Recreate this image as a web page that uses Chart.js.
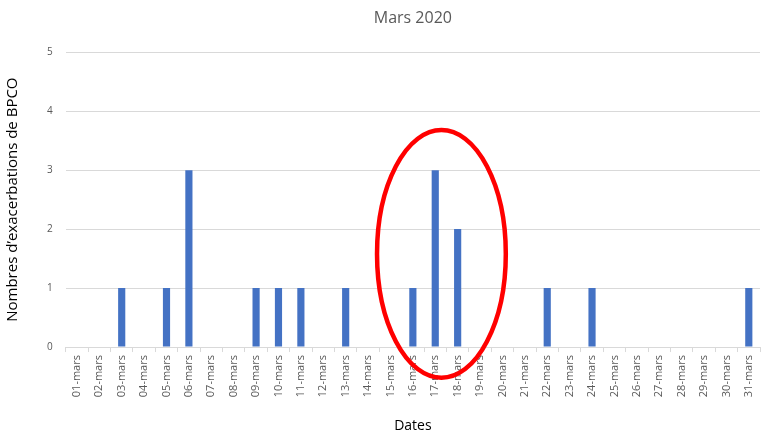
<!DOCTYPE html>
<html>
<head>
<meta charset="utf-8">
<script src="https://cdn.jsdelivr.net/npm/chart.js@4"></script>
<style>
  html, body { margin: 0; padding: 0; background: #ffffff; }
  canvas { display: block; }
</style>
</head>
<body>
<canvas id="chart" width="766" height="436"></canvas>
<script>
const dateLabels = [
    "01-mars", "02-mars", "03-mars", "04-mars", "05-mars", "06-mars", "07-mars", "08-mars",
    "09-mars", "10-mars", "11-mars", "12-mars", "13-mars", "14-mars", "15-mars", "16-mars",
    "17-mars", "18-mars", "19-mars", "20-mars", "21-mars", "22-mars", "23-mars", "24-mars",
    "25-mars", "26-mars", "27-mars", "28-mars", "29-mars", "30-mars", "31-mars"
];
const exacerbations = [
    0, 0, 1, 0, 1, 3, 0, 0,
    1, 1, 1, 0, 1, 0, 0, 1,
    3, 2, 0, 0, 0, 1, 0, 1,
    0, 0, 0, 0, 0, 0, 1
];
const yTicks = [0, 1, 2, 3, 4, 5];
// highlighted period: 16-mars .. 18-mars
const highlightFrom = 15;
const highlightTo = 17;

const fontFamily = "'Open Sans', 'Liberation Sans', sans-serif";

// red ellipse round the highlighted bars, placed through the scales
const ellipsePlugin = {
    id: "ellipse",
    afterDatasetsDraw: (chart) => {
        const ctx = chart.ctx;
        const x = chart.scales.x;
        const y = chart.scales.y;
        const left = x.getPixelForValue(highlightFrom - 1.6);
        const right = x.getPixelForValue(highlightTo + 2.15);
        const top = y.getPixelForValue(3.68);
        const bottom = y.getPixelForValue(-0.52);
        ctx.save();
        ctx.beginPath();
        ctx.ellipse((left + right) / 2, (top + bottom) / 2, (right - left) / 2, (bottom - top) / 2, 0, 0, Math.PI * 2);
        ctx.strokeStyle = "#ff0000";
        ctx.lineWidth = 4.5;
        ctx.stroke();
        ctx.restore();
    }
};

const ctx = document.getElementById("chart").getContext("2d");
const chart = new Chart(ctx, {
    type: "bar",
    data: {
        labels: dateLabels,
        datasets: [{
            label: "Exacerbations",
            data: exacerbations,
            backgroundColor: "#4472c4",
            categoryPercentage: 1,
            barPercentage: 0.32
        }]
    },
    options: {
        responsive: false,
        animation: false,
        layout: {
            padding: { left: 4, right: 6, top: 4, bottom: 2 }
        },
        plugins: {
            legend: { display: false },
            tooltip: { enabled: false },
            title: {
                display: true,
                fullSize: false,
                text: "Mars 2020",
                color: "#595959",
                font: { family: fontFamily, size: 16, weight: "normal" },
                padding: { top: 5, bottom: 24 }
            }
        },
        scales: {
            y: {
                min: 0,
                max: 5,
                afterBuildTicks: (scale) => {
                    scale.ticks = yTicks.map(v => ({ value: v }));
                },
                ticks: {
                    color: "#595959",
                    font: { family: fontFamily, size: 10 },
                    padding: 13
                },
                grid: {
                    color: "#d9d9d9",
                    lineWidth: 1,
                    drawTicks: false
                },
                border: { display: false },
                title: {
                    display: true,
                    text: "Nombres d’exacerbations de BPCO",
                    color: "#000000",
                    font: { family: fontFamily, size: 15 },
                    padding: { top: 0, bottom: 12 }
                }
            },
            x: {
                ticks: {
                    color: "#595959",
                    font: { family: fontFamily, size: 11 },
                    minRotation: 90,
                    maxRotation: 90,
                    autoSkip: false,
                    padding: 3
                },
                grid: {
                    offset: true,
                    drawOnChartArea: false,
                    drawTicks: true,
                    tickLength: 5,
                    color: "#d9d9d9"
                },
                border: { display: true, color: "#d9d9d9" },
                title: {
                    display: true,
                    text: "Dates",
                    color: "#000000",
                    font: { family: fontFamily, size: 14 },
                    padding: { top: 17, bottom: 0 }
                }
            }
        }
    },
    plugins: [ellipsePlugin]
});
</script>
</body>
</html>
